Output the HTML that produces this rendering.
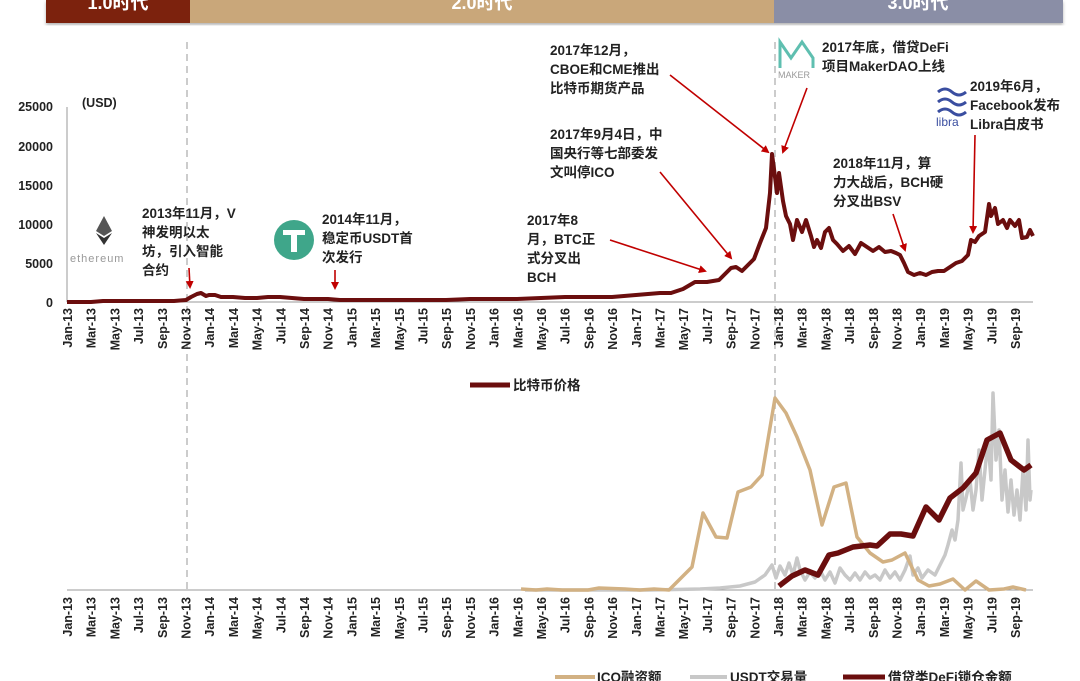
<!DOCTYPE html>
<html><head><meta charset="utf-8"><style>
body{margin:0;background:#fff;}
svg{display:block;font-family:"Liberation Sans","Noto Sans CJK SC",sans-serif;}
.an{font-size:13.5px;fill:#222;font-weight:bold;}
.tk{font-size:12.5px;fill:#222;font-weight:bold;}
</style></head><body>
<svg width="1080" height="681" viewBox="0 0 1080 681" xmlns="http://www.w3.org/2000/svg">
<defs>
<marker id="ah" markerWidth="8" markerHeight="8" refX="6" refY="4" orient="auto" markerUnits="userSpaceOnUse"><path d="M0,0 L8,4 L0,8 z" fill="#c00000"/></marker>
<filter id="sh"><feDropShadow dx="0" dy="2" stdDeviation="1.5" flood-color="#000" flood-opacity="0.3"/></filter>
</defs>
<g filter="url(#sh)">
<rect x="46" y="0" width="144" height="23" fill="#7b2410"/>
<rect x="190" y="0" width="584" height="23" fill="#c9a77a"/>
<rect x="774" y="0" width="289" height="23" fill="#8a8ea6"/>
</g>
<g font-size="18" font-weight="bold" fill="#fff" text-anchor="middle">
<text x="118" y="9">1.0时代</text>
<text x="482" y="9">2.0时代</text>
<text x="918" y="9">3.0时代</text>
</g>
<line x1="187" y1="42" x2="187" y2="592" stroke="#ccc" stroke-width="2" stroke-dasharray="7,5"/>
<line x1="775" y1="42" x2="775" y2="592" stroke="#ccc" stroke-width="2" stroke-dasharray="7,5"/>
<line x1="67" y1="107" x2="67" y2="302" stroke="#999" stroke-width="1"/>
<line x1="67" y1="302" x2="1033" y2="302" stroke="#999" stroke-width="1"/>
<g class="tk" text-anchor="end">
<text x="53" y="111">25000</text><text x="53" y="151">20000</text><text x="53" y="190">15000</text>
<text x="53" y="229">10000</text><text x="53" y="268">5000</text><text x="53" y="307">0</text>
</g>
<text x="82" y="107" class="tk">(USD)</text>
<polyline fill="none" stroke="#6b0e0e" stroke-width="4" stroke-linejoin="round" points="67,302 91,302 103,301 126,301 150,301 174,301 186,300 191,297 197,294 201,293 206,296 209,295 215,295 221,297 233,297 245,298 257,298 268,297 280,297 292,298 304,299 316,299 328,299 340,300 351,300 375,300 399,300 423,300 446,300 470,299 494,299 517,299 541,298 565,297 588,297 612,297 636,295 660,293 671,293 683,289 695,282 707,282 719,280 731,268 736,267 742,271 748,265 754,259 760,243 766,228 770,193 772,154 774,169 777,193 779,173 783,201 786,216 790,224 793,240 797,220 802,232 806,220 811,236 814,247 817,240 821,248 825,232 829,228 833,240 837,244 843,251 849,246 855,254 861,243 867,247 873,251 879,247 885,252 891,251 896,253 900,255 904,263 908,272 914,275 920,273 926,275 932,272 938,271 944,271 950,267 956,263 962,261 968,255 971,240 975,242 979,236 985,232 989,204 991,216 995,208 998,224 1003,220 1007,228 1010,220 1015,226 1019,220 1022,238 1027,237 1030,230 1033,236"/>
<g stroke="#c00000" stroke-width="1.6" fill="none" marker-end="url(#ah)">
<line x1="189" y1="268" x2="190" y2="287"/>
<line x1="335" y1="270" x2="335" y2="288"/>
<line x1="610" y1="240" x2="705" y2="271"/>
<line x1="660" y1="172" x2="731" y2="258"/>
<line x1="670" y1="75" x2="768" y2="152"/>
<line x1="807" y1="88" x2="783" y2="152"/>
<line x1="893" y1="214" x2="905" y2="250"/>
<line x1="975" y1="135" x2="973" y2="232"/>
</g>
<g class="an">
<text x="142" y="218">2013年11月，V</text><text x="142" y="237">神发明以太</text><text x="142" y="256">坊，引入智能</text><text x="142" y="275">合约</text>
<text x="322" y="224">2014年11月，</text><text x="322" y="243">稳定币USDT首</text><text x="322" y="262">次发行</text>
<text x="527" y="225">2017年8</text><text x="527" y="244">月，BTC正</text><text x="527" y="263">式分叉出</text><text x="527" y="282">BCH</text>
<text x="550" y="139">2017年9月4日，中</text><text x="550" y="158">国央行等七部委发</text><text x="550" y="177">文叫停ICO</text>
<text x="550" y="55">2017年12月，</text><text x="550" y="74">CBOE和CME推出</text><text x="550" y="93">比特币期货产品</text>
<text x="822" y="52">2017年底，借贷DeFi</text><text x="822" y="71">项目MakerDAO上线</text>
<text x="833" y="168">2018年11月，算</text><text x="833" y="187">力大战后，BCH硬</text><text x="833" y="206">分叉出BSV</text>
<text x="970" y="91">2019年6月，</text><text x="970" y="110">Facebook发布</text><text x="970" y="129">Libra白皮书</text>
</g>
<polygon points="104,216 96,231 104,236 112,231" fill="#555"/>
<polygon points="104,238 96,233 104,245 112,233" fill="#333"/>
<text x="70" y="262" font-size="11" fill="#999" letter-spacing="1">ethereum</text>
<circle cx="294" cy="240" r="20" fill="#3fa68a"/>
<rect x="283" y="230" width="22" height="5" fill="#fff"/><rect x="291" y="230" width="6" height="22" fill="#fff"/>
<path d="M780,68 L780,42 L791,58 L802,42 L813,58 L813,68" fill="none" stroke="#5fbfb0" stroke-width="3"/>
<text x="778" y="78" font-size="9" fill="#999">MAKER</text>
<path d="M938,92 q7,-6 14,0 t14,0 M938,102 q7,-6 14,0 t14,0 M938,112 q7,-6 14,0 t14,0" fill="none" stroke="#3a4ea0" stroke-width="3"/>
<text x="936" y="126" font-size="12" fill="#3a4ea0">libra</text>
<line x1="470" y1="385" x2="510" y2="385" stroke="#6b0e0e" stroke-width="5"/>
<text x="513" y="390" font-size="13.5" font-weight="bold" fill="#222">比特币价格</text>
<line x1="67" y1="590" x2="1033" y2="590" stroke="#999" stroke-width="1"/>
<polyline fill="none" stroke="#c8c8c8" stroke-width="3.5" stroke-linejoin="round" points="525,590 650,590 700,589 720,588 740,586 755,582 765,575 772,565 776,578 780,566 785,575 789,563 793,575 797,558 800,570 805,580 810,572 815,578 820,570 825,580 830,572 835,583 840,568 845,575 850,580 855,573 860,580 865,572 870,578 875,575 880,580 885,570 890,578 895,572 900,580 905,570 910,556 913,575 918,568 922,578 928,570 935,575 940,565 945,555 948,545 952,530 955,540 958,520 961,463 963,510 966,498 970,480 973,510 976,490 979,450 982,500 985,470 988,440 991,480 993,393 996,460 999,430 1002,500 1005,470 1008,512 1011,480 1014,515 1017,490 1020,520 1023,470 1026,510 1028,440 1030,500 1031,490"/>
<polyline fill="none" stroke="#d2b183" stroke-width="3.5" stroke-linejoin="round" points="521,589 536,590 547,589 562,590 588,590 599,588 625,589 640,590 654,589 669,590 692,567 703,513 716,537 727,538 738,492 751,487 762,475 775,398 786,413 797,437 810,470 822,525 834,487 846,483 857,537 870,553 883,562 892,560 905,553 918,580 929,586 940,584 953,579 965,590 976,581 989,590 1004,589 1013,587 1026,590"/>
<polyline fill="none" stroke="#6b0e0e" stroke-width="5.5" stroke-linejoin="round" points="779,586 792,576 805,570 818,575 829,555 838,553 853,547 870,545 877,546 890,534 901,534 913,536 926,507 939,520 950,498 963,488 976,473 987,440 1000,433 1011,460 1024,470 1031,465"/>
<g font-size="13.5" font-weight="bold" fill="#222">
<line x1="555" y1="677" x2="595" y2="677" stroke="#d2b183" stroke-width="4"/><text x="597" y="682">ICO融资额</text>
<line x1="690" y1="677" x2="727" y2="677" stroke="#c8c8c8" stroke-width="4"/><text x="730" y="682">USDT交易量</text>
<line x1="843" y1="677" x2="885" y2="677" stroke="#6b0e0e" stroke-width="5"/><text x="888" y="682">借贷类DeFi锁仓金额</text>
</g>
<g class="tk" text-anchor="end">
<text transform="translate(72,308) rotate(-90)">Jan-13</text><text transform="translate(95.7,308) rotate(-90)">Mar-13</text><text transform="translate(119.4,308) rotate(-90)">May-13</text><text transform="translate(143.1,308) rotate(-90)">Jul-13</text><text transform="translate(166.8,308) rotate(-90)">Sep-13</text><text transform="translate(190.5,308) rotate(-90)">Nov-13</text><text transform="translate(214.2,308) rotate(-90)">Jan-14</text><text transform="translate(237.9,308) rotate(-90)">Mar-14</text><text transform="translate(261.6,308) rotate(-90)">May-14</text><text transform="translate(285.3,308) rotate(-90)">Jul-14</text><text transform="translate(309,308) rotate(-90)">Sep-14</text><text transform="translate(332.7,308) rotate(-90)">Nov-14</text><text transform="translate(356.4,308) rotate(-90)">Jan-15</text><text transform="translate(380.1,308) rotate(-90)">Mar-15</text><text transform="translate(403.8,308) rotate(-90)">May-15</text><text transform="translate(427.5,308) rotate(-90)">Jul-15</text><text transform="translate(451.2,308) rotate(-90)">Sep-15</text><text transform="translate(474.9,308) rotate(-90)">Nov-15</text><text transform="translate(498.6,308) rotate(-90)">Jan-16</text><text transform="translate(522.3,308) rotate(-90)">Mar-16</text><text transform="translate(546,308) rotate(-90)">May-16</text><text transform="translate(569.7,308) rotate(-90)">Jul-16</text><text transform="translate(593.4,308) rotate(-90)">Sep-16</text><text transform="translate(617.1,308) rotate(-90)">Nov-16</text><text transform="translate(640.8,308) rotate(-90)">Jan-17</text><text transform="translate(664.5,308) rotate(-90)">Mar-17</text><text transform="translate(688.2,308) rotate(-90)">May-17</text><text transform="translate(711.9,308) rotate(-90)">Jul-17</text><text transform="translate(735.6,308) rotate(-90)">Sep-17</text><text transform="translate(759.3,308) rotate(-90)">Nov-17</text><text transform="translate(783,308) rotate(-90)">Jan-18</text><text transform="translate(806.7,308) rotate(-90)">Mar-18</text><text transform="translate(830.4,308) rotate(-90)">May-18</text><text transform="translate(854.1,308) rotate(-90)">Jul-18</text><text transform="translate(877.8,308) rotate(-90)">Sep-18</text><text transform="translate(901.5,308) rotate(-90)">Nov-18</text><text transform="translate(925.2,308) rotate(-90)">Jan-19</text><text transform="translate(948.9,308) rotate(-90)">Mar-19</text><text transform="translate(972.6,308) rotate(-90)">May-19</text><text transform="translate(996.3,308) rotate(-90)">Jul-19</text><text transform="translate(1020,308) rotate(-90)">Sep-19</text>
</g>
<g class="tk" text-anchor="end">
<text transform="translate(72,597) rotate(-90)">Jan-13</text><text transform="translate(95.7,597) rotate(-90)">Mar-13</text><text transform="translate(119.4,597) rotate(-90)">May-13</text><text transform="translate(143.1,597) rotate(-90)">Jul-13</text><text transform="translate(166.8,597) rotate(-90)">Sep-13</text><text transform="translate(190.5,597) rotate(-90)">Nov-13</text><text transform="translate(214.2,597) rotate(-90)">Jan-14</text><text transform="translate(237.9,597) rotate(-90)">Mar-14</text><text transform="translate(261.6,597) rotate(-90)">May-14</text><text transform="translate(285.3,597) rotate(-90)">Jul-14</text><text transform="translate(309,597) rotate(-90)">Sep-14</text><text transform="translate(332.7,597) rotate(-90)">Nov-14</text><text transform="translate(356.4,597) rotate(-90)">Jan-15</text><text transform="translate(380.1,597) rotate(-90)">Mar-15</text><text transform="translate(403.8,597) rotate(-90)">May-15</text><text transform="translate(427.5,597) rotate(-90)">Jul-15</text><text transform="translate(451.2,597) rotate(-90)">Sep-15</text><text transform="translate(474.9,597) rotate(-90)">Nov-15</text><text transform="translate(498.6,597) rotate(-90)">Jan-16</text><text transform="translate(522.3,597) rotate(-90)">Mar-16</text><text transform="translate(546,597) rotate(-90)">May-16</text><text transform="translate(569.7,597) rotate(-90)">Jul-16</text><text transform="translate(593.4,597) rotate(-90)">Sep-16</text><text transform="translate(617.1,597) rotate(-90)">Nov-16</text><text transform="translate(640.8,597) rotate(-90)">Jan-17</text><text transform="translate(664.5,597) rotate(-90)">Mar-17</text><text transform="translate(688.2,597) rotate(-90)">May-17</text><text transform="translate(711.9,597) rotate(-90)">Jul-17</text><text transform="translate(735.6,597) rotate(-90)">Sep-17</text><text transform="translate(759.3,597) rotate(-90)">Nov-17</text><text transform="translate(783,597) rotate(-90)">Jan-18</text><text transform="translate(806.7,597) rotate(-90)">Mar-18</text><text transform="translate(830.4,597) rotate(-90)">May-18</text><text transform="translate(854.1,597) rotate(-90)">Jul-18</text><text transform="translate(877.8,597) rotate(-90)">Sep-18</text><text transform="translate(901.5,597) rotate(-90)">Nov-18</text><text transform="translate(925.2,597) rotate(-90)">Jan-19</text><text transform="translate(948.9,597) rotate(-90)">Mar-19</text><text transform="translate(972.6,597) rotate(-90)">May-19</text><text transform="translate(996.3,597) rotate(-90)">Jul-19</text><text transform="translate(1020,597) rotate(-90)">Sep-19</text>
</g>
</svg>
</body></html>
